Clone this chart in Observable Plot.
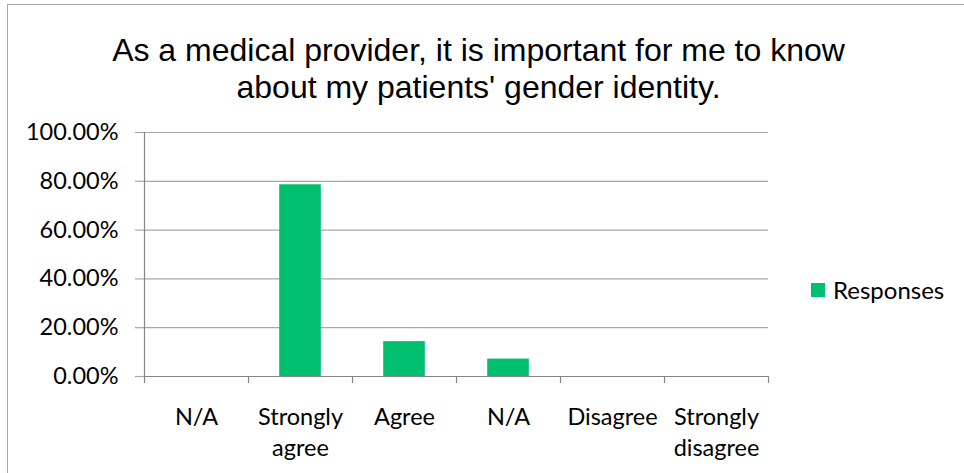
<!DOCTYPE html>
<html>
<head>
<meta charset="utf-8">
<script src="https://cdn.jsdelivr.net/npm/d3@7"></script>
<script src="https://cdn.jsdelivr.net/npm/@observablehq/plot@0.6"></script>
<style>
  html, body { margin: 0; padding: 0; background: #fff; }
  #wrap { position: relative; width: 964px; height: 473px; overflow: hidden; background: #fff; }
  #border { position: absolute; left: 7px; top: 4px; width: 970px; height: 480px; border: 1.5px solid #a6a6a6; box-sizing: border-box; }
  #title { position: absolute; left: 0; width: 957px; top: 32px; text-align: center; font-family: "Liberation Sans", Arial, sans-serif; font-size: 32px; line-height: 37px; color: #000; }
  #legend { position: absolute; left: 811px; top: 275px; font-family: Lato, sans-serif; font-size: 24px; color: #000; display: flex; align-items: center; }
  #legend .sw { width: 14px; height: 14px; margin-right: 8px; }
  #chart { position: absolute; left: 0; top: 0; }
</style>
</head>
<body>
<div id="wrap">
  <div id="chart"></div>
  <div id="border"></div>
  <div id="title">As a medical provider, it is important for me to know<br>about my patients' gender identity.</div>
  <div id="legend"><div class="sw"></div><span id="legendLabel"></span></div>
</div>
<script>
const categories = ["N/A", "Strongly agree", "Agree", "N/A", "Disagree", "Strongly disagree"];
const values = [0, 78.57, 14.29, 7.14, 0, 0];
const yTicks = [0, 20, 40, 60, 80, 100];
const seriesName = "Responses";
const barColor = "#00BF6F";

const data = categories.map((c, i) => ({i, category: c, value: values[i]}));
const boundaries = d3.range(categories.length + 1);

document.querySelector("#legend .sw").style.background = barColor;
document.getElementById("legendLabel").textContent = seriesName;

const chart = Plot.plot({
  width: 964,
  height: 473,
  marginTop: 132,
  marginBottom: 97,
  marginLeft: 144,
  marginRight: 196,
  style: {fontFamily: "Lato, sans-serif", fontSize: "23px", color: "#000", background: "transparent"},
  x: {type: "linear", domain: [0, categories.length]},
  y: {domain: [0, 100]},
  marks: [
    Plot.gridY(yTicks, {stroke: "#a6a6a6", strokeOpacity: 1, strokeWidth: 1.2}),
    Plot.axisY(yTicks, {tickSize: 9, tickPadding: 17, stroke: "#a6a6a6", strokeWidth: 1.2, tickFormat: d => d.toFixed(2) + "%", fill: "#000", label: null, fontSize: 23.5}),
    Plot.rectY(data, {x1: d => d.i + 0.3, x2: d => d.i + 0.7, y1: 0, y2: "value", fill: barColor}),
    Plot.axisX(boundaries, {tickSize: 7, tickFormat: () => "", stroke: "#868686", strokeWidth: 1.2, label: null}),
    Plot.ruleY([0], {stroke: "#868686", strokeWidth: 1.2}),
    Plot.ruleX([0], {stroke: "#868686", strokeWidth: 1.2}),
    Plot.text(data, {x: d => d.i + 0.5, y: () => 0, text: "category", lineAnchor: "top", dy: 27, lineWidth: 5, lineHeight: 1.3, fill: "#000", fontSize: 23.5})
  ]
});
document.getElementById("chart").appendChild(chart);
</script>
</body>
</html>
